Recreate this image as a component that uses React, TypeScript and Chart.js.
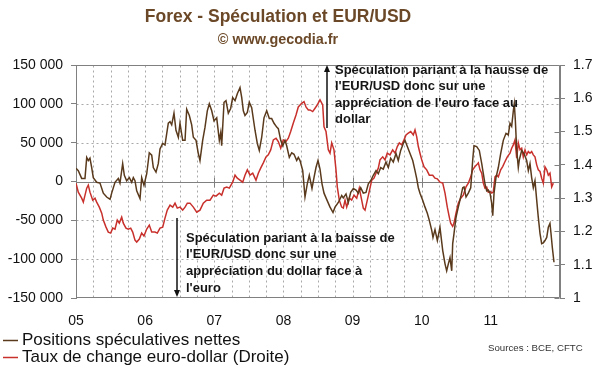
import React, { useEffect, useRef } from "react";
import { Chart, registerables } from "chart.js";

Chart.register(...registerables);

// ---- Data ----
// Time in years since 1 Jan 2005
const posT = [
  0, 0.033, 0.082, 0.130, 0.155, 0.178, 0.202, 0.227, 0.250, 0.299,
  0.347, 0.395, 0.444, 0.492, 0.516, 0.564, 0.612, 0.636, 0.675, 0.699,
  0.733, 0.771, 0.806, 0.829, 0.853, 0.878, 0.926, 0.950, 0.983, 1.023,
  1.060, 1.095, 1.118, 1.157, 1.190, 1.215, 1.254, 1.287, 1.335, 1.360,
  1.384, 1.417, 1.446, 1.480, 1.504, 1.543, 1.577, 1.601, 1.639, 1.673,
  1.697, 1.736, 1.769, 1.793, 1.832, 1.866, 1.899, 1.928, 1.963, 1.996,
  2.035, 2.073, 2.093, 2.107, 2.141, 2.169, 2.203, 2.237, 2.266, 2.300,
  2.333, 2.372, 2.397, 2.420, 2.444, 2.478, 2.506, 2.541, 2.589, 2.622,
  2.651, 2.686, 2.719, 2.758, 2.796, 2.830, 2.864, 2.903, 2.926, 2.961,
  2.990, 3.023, 3.047, 3.085, 3.120, 3.153, 3.192, 3.215, 3.240, 3.279,
  3.312, 3.345, 3.374, 3.413, 3.442, 3.471, 3.500, 3.529, 3.558, 3.587,
  3.630, 3.674, 3.717, 3.746, 3.794, 3.843, 3.866, 3.905, 3.938, 3.973,
  4.011, 4.050, 4.083, 4.118, 4.155, 4.194, 4.228, 4.262, 4.300, 4.339,
  4.372, 4.407, 4.444, 4.483, 4.517, 4.551, 4.589, 4.628, 4.661, 4.696,
  4.734, 4.758, 4.792, 4.831, 4.870, 4.903, 4.927, 4.951, 4.975, 5.014,
  5.048, 5.081, 5.110, 5.145, 5.163, 5.192, 5.226, 5.264, 5.304, 5.337,
  5.361, 5.385, 5.409, 5.434, 5.448, 5.467, 5.496, 5.529, 5.564, 5.593,
  5.612, 5.641, 5.674, 5.709, 5.737, 5.756, 5.795, 5.833, 5.868, 5.891,
  5.915, 5.940, 5.963, 5.988, 6.012, 6.027, 6.046, 6.074, 6.108, 6.142,
  6.180, 6.219, 6.252, 6.277, 6.301, 6.325, 6.339, 6.354, 6.374, 6.397,
  6.412, 6.446, 6.479, 6.518, 6.542, 6.566, 6.590, 6.614, 6.638, 6.663,
  6.686, 6.711, 6.735, 6.759, 6.783, 6.808, 6.831, 6.855, 6.870, 6.889,
  6.913,
];
// Net speculative positions (contracts)
const posVals = [
  17000, 14000, 4000, 4000, 31000, 27000, 30000, 18000, 5000, -1000,
  -2000, -15000, -20000, -23000, -15000, -1000, 4000, -2000, 23000, 8000,
  1000, 5000, -1000, 5000, 1000, -12000, -22000, 5000, -5000, 10000,
  37000, 34000, 18000, 12000, 23000, 42000, 49000, 47000, 75000, 77000,
  73000, 88000, 66000, 57000, 75000, 53000, 53000, 93000, 85000, 73000,
  57000, 53000, 36000, 27000, 53000, 70000, 91000, 100000, 91000, 78000,
  82000, 53000, 63000, 46000, 102000, 104000, 88000, 94000, 108000, 104000,
  113000, 121000, 108000, 91000, 85000, 89000, 102000, 95000, 66000, 49000,
  40000, 57000, 82000, 91000, 81000, 81000, 75000, 70000, 68000, 53000,
  46000, 53000, 46000, 31000, 37000, 35000, 27000, 31000, 27000, 14000,
  -20000, -3000, 8000, -9000, 5000, 18000, 27000, 16000, -3000, -15000,
  -24000, -33000, -40000, -33000, -27000, -18000, -21000, -16000, -27000, -14000,
  -9000, -11000, -15000, -8000, -15000, -14000, -3000, 1000, 8000, 14000,
  10000, 18000, 16000, 25000, 18000, 30000, 25000, 36000, 27000, 40000,
  49000, 53000, 45000, 36000, 27000, 14000, 4000, -8000, -15000, -24000,
  -33000, -41000, -50000, -63000, -72000, -62000, -76000, -59000, -89000, -106000,
  -115000, -106000, -98000, -115000, -80000, -67000, -46000, -33000, -20000, -8000,
  -7000, -20000, -15000, -8000, 27000, 46000, 45000, 40000, 23000, 10000,
  -3000, -12000, -11000, -15000, -28000, -44000, -15000, 5000, 18000, 36000,
  53000, 62000, 60000, 75000, 71000, 91000, 100000, 79000, 40000, 18000,
  28000, 40000, 36000, 27000, 14000, 23000, 5000, -8000, 1000, -24000,
  -46000, -67000, -80000, -79000, -76000, -72000, -59000, -54000, -67000, -85000,
  -104000,
];

// EUR/USD exchange rate
const fxT = [
  0, 0.033, 0.082, 0.106, 0.155, 0.178, 0.202, 0.242, 0.275, 0.299,
  0.337, 0.372, 0.395, 0.434, 0.467, 0.502, 0.531, 0.564, 0.597, 0.626,
  0.661, 0.684, 0.723, 0.756, 0.791, 0.820, 0.853, 0.878, 0.916, 0.950,
  0.983, 1.023, 1.060, 1.095, 1.143, 1.176, 1.215, 1.254, 1.287, 1.320,
  1.360, 1.399, 1.432, 1.465, 1.504, 1.543, 1.577, 1.610, 1.649, 1.697,
  1.746, 1.793, 1.841, 1.890, 1.938, 1.986, 2.025, 2.073, 2.107, 2.141,
  2.180, 2.217, 2.266, 2.300, 2.333, 2.372, 2.411, 2.444, 2.478, 2.517,
  2.556, 2.603, 2.637, 2.671, 2.709, 2.748, 2.781, 2.816, 2.854, 2.893,
  2.926, 2.961, 2.998, 3.037, 3.071, 3.105, 3.143, 3.182, 3.215, 3.264,
  3.298, 3.326, 3.360, 3.384, 3.423, 3.457, 3.490, 3.529, 3.568, 3.587,
  3.616, 3.649, 3.674, 3.698, 3.731, 3.760, 3.779, 3.808, 3.843, 3.866,
  3.891, 3.915, 3.953, 3.987, 4.021, 4.060, 4.097, 4.132, 4.155, 4.180,
  4.213, 4.252, 4.277, 4.310, 4.339, 4.372, 4.397, 4.436, 4.469, 4.502,
  4.541, 4.580, 4.614, 4.647, 4.676, 4.711, 4.744, 4.773, 4.806, 4.841,
  4.878, 4.903, 4.927, 4.951, 4.975, 5.000, 5.033, 5.072, 5.110, 5.159,
  5.192, 5.226, 5.264, 5.304, 5.337, 5.370, 5.399, 5.419, 5.448, 5.467,
  5.496, 5.529, 5.564, 5.601, 5.641, 5.674, 5.709, 5.737, 5.771, 5.795,
  5.819, 5.843, 5.868, 5.891, 5.915, 5.940, 5.963, 5.988, 6.012, 6.035,
  6.060, 6.085, 6.108, 6.142, 6.171, 6.205, 6.238, 6.277, 6.301, 6.325,
  6.349, 6.374, 6.397, 6.422, 6.446, 6.469, 6.494, 6.518, 6.542, 6.566,
  6.590, 6.614, 6.638, 6.663, 6.686, 6.711, 6.735, 6.759, 6.783, 6.808,
  6.831, 6.855, 6.880, 6.903,
];
const fxVals = [
  1.345, 1.318, 1.300, 1.288, 1.330, 1.339, 1.318, 1.294, 1.300, 1.288,
  1.273, 1.255, 1.234, 1.213, 1.198, 1.195, 1.210, 1.207, 1.234, 1.225,
  1.243, 1.225, 1.210, 1.207, 1.210, 1.198, 1.174, 1.168, 1.177, 1.195,
  1.186, 1.207, 1.219, 1.198, 1.198, 1.195, 1.210, 1.213, 1.240, 1.264,
  1.279, 1.273, 1.285, 1.270, 1.273, 1.264, 1.273, 1.285, 1.285, 1.273,
  1.258, 1.264, 1.285, 1.294, 1.294, 1.309, 1.306, 1.315, 1.309, 1.330,
  1.333, 1.330, 1.348, 1.369, 1.360, 1.354, 1.348, 1.369, 1.385, 1.369,
  1.375, 1.354, 1.375, 1.390, 1.406, 1.424, 1.430, 1.445, 1.475, 1.480,
  1.470, 1.450, 1.475, 1.470, 1.480, 1.500, 1.526, 1.550, 1.574, 1.585,
  1.590, 1.574, 1.565, 1.565, 1.560, 1.570, 1.580, 1.595, 1.580, 1.514,
  1.500, 1.445, 1.435, 1.466, 1.445, 1.385, 1.334, 1.294, 1.273, 1.270,
  1.294, 1.273, 1.300, 1.294, 1.309, 1.300, 1.330, 1.294, 1.270, 1.264,
  1.294, 1.330, 1.354, 1.360, 1.375, 1.390, 1.415, 1.424, 1.415, 1.435,
  1.430, 1.445, 1.435, 1.455, 1.466, 1.460, 1.475, 1.490, 1.495, 1.500,
  1.490, 1.505, 1.485, 1.455, 1.435, 1.415, 1.394, 1.385, 1.369, 1.369,
  1.360, 1.358, 1.348, 1.345, 1.315, 1.273, 1.243, 1.225, 1.215, 1.225,
  1.255, 1.285, 1.300, 1.309, 1.334, 1.345, 1.364, 1.385, 1.395, 1.400,
  1.406, 1.385, 1.375, 1.345, 1.330, 1.333, 1.318, 1.320, 1.315, 1.318,
  1.364, 1.369, 1.364, 1.385, 1.395, 1.410, 1.424, 1.435, 1.450, 1.460,
  1.475, 1.420, 1.466, 1.445, 1.450, 1.424, 1.445, 1.430, 1.440, 1.435,
  1.440, 1.430, 1.424, 1.400, 1.385, 1.380, 1.360, 1.345, 1.394, 1.385,
  1.369, 1.375, 1.334, 1.345,
];

const yearLabels = ["05", "06", "07", "08", "09", "10", "11"];
const leftTicks = [-150000, -100000, -50000, 0, 50000, 100000, 150000];
const rightTicks = [1, 1.1, 1.2, 1.3, 1.4, 1.5, 1.6, 1.7];

const titleText = "Forex - Spéculation et EUR/USD";
const subtitleText = "© www.gecodia.fr";
const seriesNames = ["Positions spéculatives nettes", "Taux de change euro-dollar (Droite)"];
const sourceText = "Sources : BCE, CFTC";
const noteUp = [
  "Spéculation pariant à la hausse de",
  "l'EUR/USD donc sur une",
  "appréciation de l'euro face au",
  "dollar",
];
const noteDown = [
  "Spéculation pariant à la baisse de",
  "l'EUR/USD donc sur une",
  "appréciation du dollar face à",
  "l'euro",
];

const BROWN = "#5a3a1c";
const RED = "#c8302c";
const TITLE = "#6b4827";
const AXIS = "#808080";
const GRID = "#a9a9a9";
const FONT = '"Liberation Sans", Arial, sans-serif';

function fmtThousands(v: number): string {
  const s = Math.abs(v).toString().replace(/\B(?=(\d{3})+(?!\d))/g, " ");
  return (v < 0 ? "-" : "") + s;
}

function arrow(ctx: CanvasRenderingContext2D, x: number, yFrom: number, yTo: number) {
  const dir = yTo > yFrom ? 1 : -1;
  ctx.beginPath();
  ctx.moveTo(x, yFrom);
  ctx.lineTo(x, yTo - dir * 6);
  ctx.lineWidth = 1.5;
  ctx.strokeStyle = "#111";
  ctx.stroke();
  ctx.beginPath();
  ctx.moveTo(x, yTo);
  ctx.lineTo(x - 3, yTo - dir * 7);
  ctx.lineTo(x + 3, yTo - dir * 7);
  ctx.closePath();
  ctx.fillStyle = "#111";
  ctx.fill();
}

const overlay = {
  id: "overlay",
  beforeDatasetsDraw(chart: any) {
    const { ctx, chartArea: a, scales } = chart;
    ctx.save();
    const L = Math.round(a.left) + 0.5;
    const R = Math.round(a.right) - 0.5;
    const T = Math.round(a.top) + 0.5;
    const B = Math.round(a.bottom) - 0.5;

    // dashed grid
    ctx.strokeStyle = GRID;
    ctx.lineWidth = 1;
    ctx.setLineDash([2, 3]);
    ctx.beginPath();
    for (let i = 1; i < 28; i++) {
      const x = Math.round(scales.x.getPixelForValue(i / 4)) + 0.5;
      ctx.moveTo(x, T);
      ctx.lineTo(x, B);
    }
    leftTicks.forEach((v) => {
      if (v === 0 || Math.abs(v) === 150000) return;
      const y = Math.round(scales.y.getPixelForValue(v)) + 0.5;
      ctx.moveTo(L, y);
      ctx.lineTo(R, y);
    });
    ctx.stroke();
    ctx.setLineDash([]);

    // border and zero axis
    ctx.strokeStyle = AXIS;
    ctx.beginPath();
    ctx.rect(L, T, R - L, B - T);
    ctx.stroke();
    const y0 = Math.round(scales.y.getPixelForValue(0)) + 0.5;
    ctx.beginPath();
    ctx.moveTo(L, y0);
    ctx.lineTo(R, y0);
    for (let i = 1; i < 7; i++) {
      const x = Math.round(scales.x.getPixelForValue(i)) + 0.5;
      ctx.moveTo(x, y0 - 5);
      ctx.lineTo(x, y0 + 5);
    }
    rightTicks.forEach((v) => {
      const y = Math.round(scales.y1.getPixelForValue(v)) + 0.5;
      ctx.moveTo(R - 5, y);
      ctx.lineTo(R, y);
    });
    ctx.stroke();
    ctx.restore();
  },
  afterDraw(chart: any) {
    const { ctx } = chart;
    ctx.save();
    ctx.textBaseline = "middle";
    // Title
    ctx.fillStyle = TITLE;
    ctx.textAlign = "center";
    ctx.font = `bold 17.5px ${FONT}`;
    ctx.fillText(titleText, 278, 17);
    ctx.font = `bold 14.4px ${FONT}`;
    ctx.fillText(subtitleText, 278, 40);

    // Legend
    ctx.textAlign = "left";
    ctx.font = `17px ${FONT}`;
    const legendColors = [BROWN, RED];
    seriesNames.forEach((name, i) => {
      const y = 340 + i * 17;
      ctx.strokeStyle = legendColors[i];
      ctx.lineWidth = 1.5;
      ctx.beginPath();
      ctx.moveTo(3, y + 0.5);
      ctx.lineTo(18, y + 0.5);
      ctx.stroke();
      ctx.fillStyle = "#111";
      ctx.fillText(name, 22, y);
    });

    // Sources
    ctx.font = `9.7px ${FONT}`;
    ctx.fillStyle = "#333";
    ctx.fillText(sourceText, 488, 348);

    // Annotations
    ctx.font = `bold 13px ${FONT}`;
    ctx.fillStyle = "#151515";
    noteUp.forEach((line, i) => ctx.fillText(line, 335, 70 + i * 16.5));
    noteDown.forEach((line, i) => ctx.fillText(line, 186, 238 + i * 16.7));
    arrow(ctx, 327, 128, 65);
    arrow(ctx, 177, 218, 297);
    ctx.restore();
  },
};

export default function App() {
  const ref = useRef<HTMLCanvasElement | null>(null);
  useEffect(() => {
    if (!ref.current) return;
    const chart = new Chart(ref.current, {
      type: "line",
      data: {
        datasets: [
          {
            label: seriesNames[0],
            data: posT.map((t, i) => ({ x: t, y: posVals[i] })),
            yAxisID: "y",
            borderColor: BROWN,
            borderWidth: 1.5,
            pointRadius: 0,
            tension: 0,
          },
          {
            label: seriesNames[1],
            data: fxT.map((t, i) => ({ x: t, y: fxVals[i] })),
            yAxisID: "y1",
            borderColor: RED,
            borderWidth: 1.5,
            pointRadius: 0,
            tension: 0,
          },
        ],
      },
      options: {
        responsive: false,
        animation: false,
        devicePixelRatio: 1,
        layout: { padding: { top: 65, bottom: 44, left: 0, right: 0 } },
        plugins: {
          legend: { display: false },
          tooltip: { enabled: false },
          title: { display: false },
        },
        scales: {
          x: {
            type: "linear",
            min: 0,
            max: 7,
            afterBuildTicks: (s: any) => {
              s.ticks = yearLabels.map((_, i) => ({ value: i }));
            },
            ticks: {
              autoSkip: false,
              maxRotation: 0,
              padding: 15,
              color: "#111",
              font: { family: FONT, size: 14 },
              callback: (v: any) => yearLabels[Math.round(Number(v))] ?? "",
            },
            grid: { drawOnChartArea: false, drawTicks: false },
            border: { display: false },
            afterFit: (s: any) => {
              s.height = 30;
            },
          },
          y: {
            position: "left",
            min: -150000,
            max: 150000,
            afterBuildTicks: (s: any) => {
              s.ticks = leftTicks.map((v) => ({ value: v }));
            },
            ticks: {
              padding: 8,
              color: "#111",
              font: { family: FONT, size: 14 },
              callback: (v: any) => fmtThousands(Number(v)),
            },
            grid: { drawOnChartArea: false, tickColor: AXIS, tickLength: 5, drawTicks: true },
            border: { color: AXIS },
            afterFit: (s: any) => {
              s.width = 76;
            },
          },
          y1: {
            position: "right",
            min: 1,
            max: 1.7,
            afterBuildTicks: (s: any) => {
              s.ticks = rightTicks.map((v) => ({ value: v }));
            },
            ticks: {
              padding: 8,
              color: "#111",
              font: { family: FONT, size: 14 },
              callback: (v: any) => String(Number(Number(v).toFixed(1))),
            },
            grid: { drawOnChartArea: false, tickColor: AXIS, tickLength: 5, drawTicks: true },
            border: { color: AXIS },
            afterFit: (s: any) => {
              s.width = 40;
            },
          },
        },
      },
      plugins: [overlay],
    } as any);
    return () => chart.destroy();
  }, []);
  return (
    <div style={{ position: "absolute", left: 0, top: 0, width: 600, height: 372, background: "#fff" }}>
      <canvas ref={ref} width={600} height={372} />
    </div>
  );
}
